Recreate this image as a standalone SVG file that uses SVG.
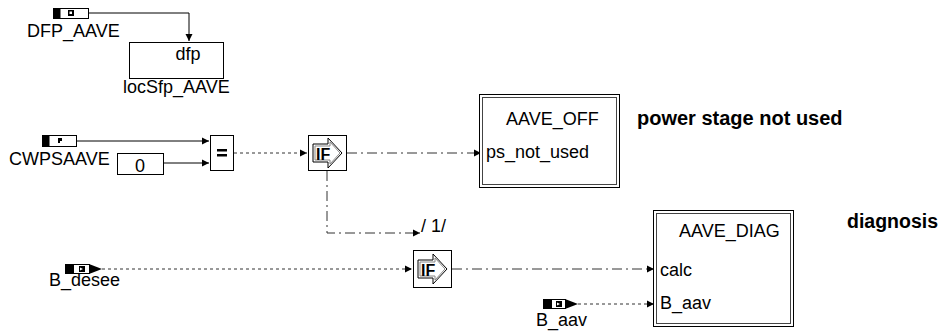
<svg xmlns="http://www.w3.org/2000/svg" width="941" height="333" viewBox="0 0 941 333">
<defs>
<marker id="arr" markerWidth="8" markerHeight="8" refX="7" refY="4" orient="auto" markerUnits="userSpaceOnUse">
<path d="M0,0.5 L7,4 L0,7.5 Z" fill="#000"/>
</marker>
<style>
text{font-family:"Liberation Sans",Arial,sans-serif;font-size:18px;fill:#000}
.b{font-weight:bold;font-size:20px}
.b2{font-weight:bold;font-size:19.5px}
.c{text-anchor:middle}
.box{fill:#fff;stroke:#000;stroke-width:1}
.dbl{fill:none;stroke:#444;stroke-width:1}
.ln{fill:none;stroke:#000;stroke-width:1}
.dot{fill:none;stroke:#333;stroke-width:1;stroke-dasharray:3,3}
.dd{fill:none;stroke:#333;stroke-width:1;stroke-dasharray:10,4,2,4}
.ifa{fill:#fff;stroke:#000;stroke-width:1}
.ift{font-weight:bold;font-size:16px}
</style>
</defs>
<rect width="941" height="333" fill="#fff"/>

<g id="connectors">
<path class="ln" d="M88,13 H189 V41" marker-end="url(#arr)"/>
<path class="ln" d="M77,141 H209" marker-end="url(#arr)"/>
<path class="ln" d="M164,163 H209" marker-end="url(#arr)"/>
<path class="dot" d="M234,153 H307" marker-end="url(#arr)"/>
<path class="dd" d="M347,153 H481" marker-end="url(#arr)"/>
<path class="dd" d="M327,171 V233 H420" marker-end="url(#arr)"/>
<path class="dot" d="M102,269 H412" marker-end="url(#arr)"/>
<path class="dd" d="M452,269 H654" marker-end="url(#arr)"/>
<path class="dot" d="M578,304 H654" marker-end="url(#arr)"/>
</g>

<g id="DFP_AAVE">
<rect class="box" x="53.5" y="8.5" width="35" height="10"/>
<rect x="53.5" y="8.5" width="7" height="10" fill="#000"/>
<rect x="68" y="10" width="6" height="6" fill="#000"/>
<rect x="69.5" y="11.5" width="2.5" height="2.5" fill="#fff"/>
<text x="27" y="37">DFP_AAVE</text>
</g>

<g id="locSfp_AAVE">
<rect class="box" x="129.5" y="42.5" width="94" height="36"/>
<text x="188" y="60" class="c">dfp</text>
<text x="123" y="93">locSfp_AAVE</text>
</g>

<g id="CWPSAAVE">
<rect class="box" x="42.5" y="135.5" width="34" height="11"/>
<rect x="42.5" y="135.5" width="7" height="11" fill="#000"/>
<path d="M58,138 h4 v3 h-2 v2 h-2 z" fill="#000"/>
<text x="9" y="165">CWPSAAVE</text>
</g>

<g id="const0">
<rect class="box" x="117.5" y="153.5" width="46" height="21"/>
<text x="140" y="172" class="c">0</text>
</g>

<g id="eq">
<rect class="box" x="210.5" y="135.5" width="23" height="35"/>
<rect x="217" y="149" width="10" height="2.5" fill="#000"/>
<rect x="217" y="154" width="10" height="2.5" fill="#000"/>
</g>

<g id="IF1">
<rect class="box" x="308.5" y="135.5" width="38" height="35"/>
<path class="ifa" d="M313,144 H328 V138 L342,153 L328,168 V162 H313 Z"/>
<path fill="none" stroke="#888" d="M315,146 H330 V142 L340,153 L330,164 V160 H315 Z"/>
<text x="316" y="160" class="ift">IF</text>
</g>

<text x="421" y="232">/ 1/</text>

<g id="AAVE_OFF">
<rect class="box" x="479.5" y="94.5" width="140" height="93"/>
<rect class="dbl" x="482.5" y="97.5" width="134" height="87"/>
<text x="506" y="125">AAVE_OFF</text>
<text x="486" y="158">ps_not_used</text>
</g>
<text x="637" y="125" class="b">power stage not used</text>

<g id="B_desee">
<rect class="box" x="73.5" y="264.5" width="16" height="9"/>
<rect x="65" y="264" width="9" height="10" fill="#000"/>
<path d="M89,264 L102,269 L89,274 Z" fill="#000"/>
<rect x="79" y="266" width="6" height="6" fill="#000"/>
<path d="M80,267.5 l3,1.5 l-3,1.5 z" fill="#fff"/>
<text x="49" y="286">B_desee</text>
</g>

<g id="IF2">
<rect class="box" x="413.5" y="250.5" width="38" height="37"/>
<path class="ifa" d="M418,260 H433 V254 L447,269 L433,284 V278 H418 Z"/>
<path fill="none" stroke="#888" d="M420,262 H435 V258 L445,269 L435,280 V276 H420 Z"/>
<text x="421" y="276" class="ift">IF</text>
</g>

<g id="B_aav_in">
<rect class="box" x="551.5" y="299.5" width="14" height="9"/>
<rect x="543" y="299" width="9" height="10" fill="#000"/>
<path d="M565,299 L578,304 L565,309 Z" fill="#000"/>
<rect x="556" y="301" width="6" height="6" fill="#000"/>
<path d="M557,302.5 l3,1.5 l-3,1.5 z" fill="#fff"/>
<text x="536" y="326">B_aav</text>
</g>

<g id="AAVE_DIAG">
<rect class="box" x="653.5" y="210.5" width="140" height="116"/>
<rect class="dbl" x="656.5" y="213.5" width="134" height="110"/>
<text x="679" y="237">AAVE_DIAG</text>
<text x="660" y="276">calc</text>
<text x="660" y="309">B_aav</text>
</g>
<text x="847" y="228" class="b2">diagnosis</text>
</svg>
